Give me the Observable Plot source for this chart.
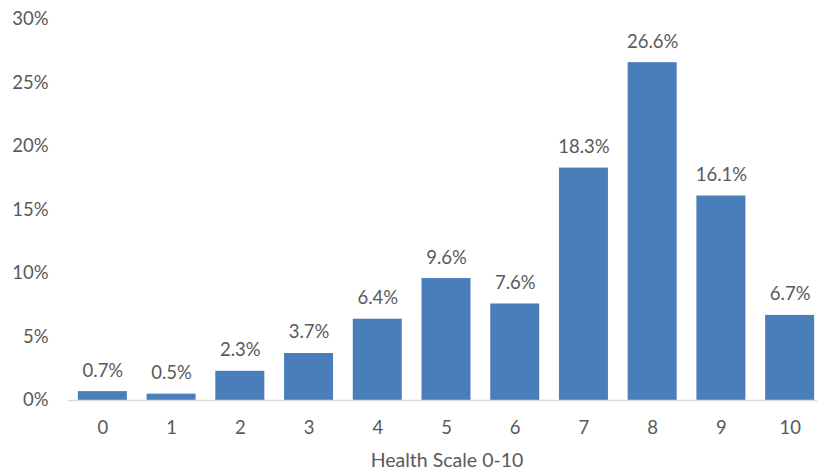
<!DOCTYPE html>
<html>
<head>
<meta charset="utf-8">
<script src="https://cdn.jsdelivr.net/npm/d3@7"></script>
<script src="https://cdn.jsdelivr.net/npm/@observablehq/plot@0.6"></script>
<style>
  html, body { margin: 0; padding: 0; background: #fff; }
  svg { display: block; }
</style>
</head>
<body>
<div id="chart"></div>
<script>
const categories = ["0","1","2","3","4","5","6","7","8","9","10"];
const values = [0.7, 0.5, 2.3, 3.7, 6.4, 9.6, 7.6, 18.3, 26.6, 16.1, 6.7];
const yTicks = [0, 5, 10, 15, 20, 25, 30];
const xTitle = "Health Scale 0-10";

const data = categories.map((c, i) => ({cat: c, v: values[i]}));
const textColor = "#595959";

const chart = Plot.plot({
  width: 817,
  height: 471,
  marginLeft: 68,
  marginRight: 0,
  marginTop: 19,
  marginBottom: 71,
  style: {fontFamily: "Lato, sans-serif", fontSize: "18.5px", color: textColor, background: "#fff", overflow: "hidden"},
  x: {domain: categories, range: [68, 824], paddingInner: 0.287, paddingOuter: 0.1435, align: 0.5, round: false, label: null},
  y: {domain: [0, 30], range: [400, 19], label: null},
  marks: [
    Plot.barY(data, {x: "cat", y: "v", fill: "#4a7ebb"}),
    Plot.ruleY([0], {stroke: "#d9d9d9", strokeWidth: 1.5}),
    Plot.text(data, {x: "cat", y: "v", text: d => d.v.toFixed(1) + "%", dy: -21, fill: textColor, fontSize: 18.5}),
    Plot.axisY({ticks: yTicks, tickFormat: d => d + "%", tickSize: 0, tickPadding: 20, fontSize: 18.5, fill: textColor, label: null}),
    Plot.axisX({tickSize: 0, tickPadding: 20, fontSize: 18.5, fill: textColor, label: null}),
    Plot.text([xTitle], {frameAnchor: "bottom", text: d => d, dx: 4, dy: 60, fill: textColor, fontSize: 19.5, lineAnchor: "middle"})
  ]
});
document.getElementById("chart").appendChild(chart);
</script>
</body>
</html>
